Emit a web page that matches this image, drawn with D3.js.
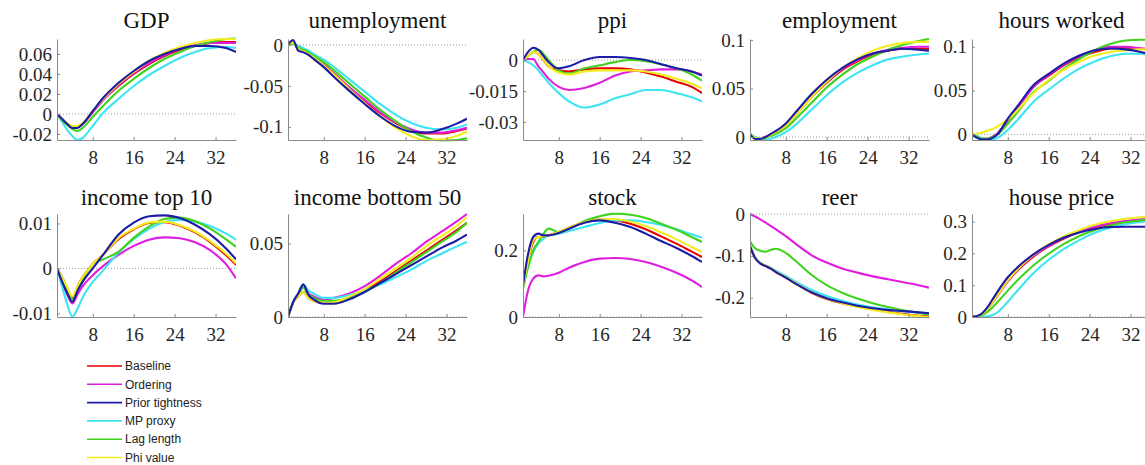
<!DOCTYPE html>
<html><head><meta charset="utf-8">
<script src="https://cdn.jsdelivr.net/npm/d3@7"></script>
<style>body{margin:0;background:#fff}</style>
</head><body><svg id="c" width="1145" height="465"></svg>
<script>
// ---------- data ----------
const horizons = [1,2,3,4,5,6,8,10,13,16,19,22,25,28,31,34,36];
const seriesNames = ["Baseline","Ordering","Prior tightness","MP proxy","Lag length","Phi value"];
const seriesColors = ["#e80000","#e01ee0","#1c1ca6","#3ee4f2","#40d21c","#f2ee1c"];
const xTicks = [8,16,24,32];

// each panel: rows in order Baseline, Ordering, Prior tightness, MP proxy, Lag length, Phi value
const gdp = [
  [0,-0.005,-0.010,-0.013,-0.013,-0.010,0.002,0.014,0.028,0.040,0.050,0.058,0.064,0.068,0.071,0.072,0.072],
  [0,-0.005,-0.010,-0.013,-0.013,-0.010,0.002,0.014,0.029,0.041,0.051,0.059,0.065,0.069,0.071,0.071,0.071],
  [0,-0.005,-0.010,-0.014,-0.014,-0.010,0.003,0.016,0.031,0.043,0.053,0.060,0.065,0.068,0.068,0.066,0.062],
  [0,-0.008,-0.016,-0.022,-0.026,-0.024,-0.012,0.001,0.015,0.028,0.039,0.048,0.056,0.062,0.066,0.067,0.066],
  [0,-0.006,-0.011,-0.015,-0.017,-0.014,-0.003,0.008,0.023,0.035,0.046,0.055,0.062,0.068,0.072,0.075,0.076],
  [0,-0.005,-0.009,-0.012,-0.012,-0.009,0.003,0.015,0.030,0.042,0.053,0.061,0.067,0.071,0.074,0.075,0.075]
];
const unemployment = [
  [0,0.003,-0.005,-0.008,-0.011,-0.015,-0.024,-0.035,-0.052,-0.068,-0.083,-0.095,-0.104,-0.108,-0.108,-0.105,-0.102],
  [0,0.003,-0.005,-0.008,-0.011,-0.015,-0.024,-0.035,-0.052,-0.067,-0.082,-0.094,-0.103,-0.107,-0.107,-0.104,-0.101],
  [0,0.006,-0.007,-0.009,-0.012,-0.017,-0.027,-0.039,-0.056,-0.072,-0.087,-0.099,-0.106,-0.107,-0.103,-0.096,-0.090],
  [0,0.001,-0.001,-0.004,-0.007,-0.011,-0.018,-0.027,-0.042,-0.057,-0.072,-0.085,-0.095,-0.101,-0.103,-0.101,-0.097],
  [0,0.002,-0.003,-0.006,-0.009,-0.013,-0.021,-0.031,-0.047,-0.063,-0.079,-0.093,-0.105,-0.113,-0.117,-0.116,-0.114],
  [0,0.003,-0.005,-0.008,-0.011,-0.015,-0.025,-0.036,-0.054,-0.071,-0.087,-0.101,-0.111,-0.116,-0.115,-0.111,-0.106]
];
const ppi = [
  [0,0.002,0.004,0.003,0.000,-0.003,-0.005,-0.0055,-0.0045,-0.004,-0.004,-0.0045,-0.006,-0.008,-0.0105,-0.013,-0.016],
  [0,0.0005,0.0005,-0.003,-0.006,-0.009,-0.013,-0.0145,-0.0135,-0.011,-0.0075,-0.0055,-0.005,-0.0045,-0.0045,-0.0055,-0.007],
  [0,0.004,0.006,0.005,0.002,-0.001,-0.004,-0.003,0.000,0.0015,0.0015,0.001,0.000,-0.002,-0.004,-0.0055,-0.0075],
  [0,-0.001,-0.0025,-0.005,-0.008,-0.011,-0.016,-0.020,-0.023,-0.0215,-0.0185,-0.0165,-0.0145,-0.0145,-0.016,-0.018,-0.020],
  [0,0.002,0.004,0.005,0.003,0.000,-0.005,-0.0065,-0.004,-0.0025,-0.001,0.000,-0.0005,-0.002,-0.004,-0.007,-0.010],
  [0,0.002,0.004,0.003,0.000,-0.003,-0.006,-0.007,-0.0055,-0.005,-0.005,-0.005,-0.0055,-0.007,-0.009,-0.0115,-0.0137]
];
const employment = [
  [0.003,-0.001,-0.002,0.000,0.002,0.005,0.012,0.023,0.041,0.056,0.069,0.078,0.085,0.089,0.091,0.091,0.091],
  [0.003,-0.001,-0.002,0.000,0.002,0.005,0.013,0.024,0.042,0.057,0.070,0.079,0.086,0.090,0.092,0.093,0.093],
  [0.003,-0.002,-0.002,0.000,0.003,0.006,0.014,0.026,0.044,0.059,0.071,0.080,0.086,0.089,0.091,0.090,0.089],
  [0.003,0.000,-0.002,-0.003,-0.002,0.000,0.005,0.013,0.028,0.043,0.056,0.066,0.074,0.080,0.083,0.085,0.086],
  [0.003,-0.001,-0.002,-0.001,0.001,0.003,0.009,0.019,0.035,0.051,0.064,0.075,0.083,0.090,0.095,0.099,0.101],
  [0.003,-0.001,-0.002,0.000,0.002,0.005,0.012,0.023,0.041,0.057,0.071,0.081,0.089,0.094,0.097,0.098,0.098]
];
const hoursWorked = [
  [0,-0.003,-0.005,-0.005,-0.003,0.001,0.016,0.031,0.054,0.067,0.079,0.088,0.094,0.098,0.099,0.098,0.097],
  [0,-0.003,-0.005,-0.005,-0.003,0.001,0.016,0.031,0.054,0.068,0.080,0.089,0.096,0.100,0.100,0.098,0.096],
  [0,-0.004,-0.006,-0.006,-0.004,0.000,0.018,0.033,0.056,0.069,0.081,0.090,0.096,0.098,0.097,0.094,0.091],
  [0,-0.002,-0.005,-0.006,-0.006,-0.004,0.005,0.017,0.037,0.051,0.064,0.075,0.083,0.089,0.092,0.092,0.090],
  [0,-0.003,-0.005,-0.005,-0.003,0.000,0.012,0.026,0.048,0.061,0.075,0.086,0.096,0.103,0.107,0.108,0.108],
  [0,0.001,0.002,0.004,0.006,0.009,0.017,0.028,0.047,0.062,0.074,0.083,0.090,0.094,0.096,0.097,0.097]
];
const incomeTop10 = [
  [0,-0.002,-0.0045,-0.0065,-0.004,-0.002,0.001,0.003,0.0065,0.0087,0.0101,0.0103,0.0095,0.0080,0.0058,0.0030,0.0008],
  [0,-0.003,-0.0058,-0.0078,-0.0058,-0.004,-0.0015,0.0005,0.003,0.0050,0.0064,0.0069,0.0067,0.0058,0.0040,0.0010,-0.0022],
  [0,-0.003,-0.0055,-0.0074,-0.005,-0.003,0.000,0.003,0.0075,0.0102,0.0116,0.0118,0.0112,0.0097,0.0075,0.0045,0.0020],
  [0,-0.004,-0.008,-0.0107,-0.009,-0.0065,-0.003,-0.0005,0.0035,0.0065,0.0088,0.0103,0.0108,0.0104,0.0094,0.0078,0.0064],
  [0,-0.002,-0.0045,-0.0068,-0.0045,-0.0025,0.001,0.002,0.0037,0.0068,0.0093,0.0110,0.0113,0.0105,0.0088,0.0065,0.0048],
  [0,-0.002,-0.0042,-0.0062,-0.004,-0.002,0.001,0.003,0.0067,0.0088,0.0102,0.0104,0.0096,0.0082,0.0060,0.0033,0.0011]
];
const incomeBottom50 = [
  [0,0.010,0.014,0.017,0.013,0.011,0.0095,0.010,0.013,0.018,0.024,0.031,0.038,0.045,0.052,0.059,0.064],
  [0,0.010,0.016,0.022,0.016,0.014,0.012,0.013,0.016,0.021,0.028,0.036,0.043,0.051,0.058,0.065,0.070],
  [0,0.010,0.016,0.022,0.015,0.012,0.009,0.009,0.012,0.017,0.023,0.029,0.035,0.041,0.047,0.052,0.056],
  [0,0.010,0.016,0.022,0.018,0.016,0.013,0.013,0.015,0.018,0.022,0.027,0.032,0.038,0.043,0.048,0.051],
  [0,0.010,0.015,0.020,0.015,0.013,0.011,0.011,0.013,0.017,0.023,0.030,0.037,0.044,0.051,0.058,0.064],
  [0,0.010,0.014,0.017,0.013,0.011,0.0095,0.010,0.014,0.019,0.026,0.033,0.040,0.048,0.055,0.062,0.068]
];
const stock = [
  [0.09,0.17,0.225,0.240,0.240,0.245,0.255,0.268,0.285,0.292,0.290,0.280,0.263,0.242,0.220,0.196,0.180],
  [0,0.08,0.115,0.125,0.122,0.124,0.133,0.148,0.165,0.175,0.177,0.174,0.165,0.151,0.133,0.110,0.090],
  [0.095,0.19,0.240,0.250,0.245,0.245,0.252,0.265,0.283,0.290,0.283,0.270,0.250,0.228,0.207,0.183,0.165],
  [0.09,0.15,0.195,0.220,0.235,0.245,0.250,0.258,0.270,0.282,0.290,0.290,0.285,0.276,0.263,0.248,0.238],
  [0.085,0.15,0.200,0.225,0.250,0.265,0.255,0.265,0.288,0.302,0.310,0.307,0.297,0.280,0.262,0.240,0.225],
  [0.09,0.17,0.230,0.240,0.242,0.245,0.255,0.268,0.285,0.293,0.294,0.286,0.273,0.254,0.233,0.210,0.195]
];
const reer = [
  [-0.077,-0.105,-0.118,-0.124,-0.130,-0.138,-0.152,-0.167,-0.188,-0.203,-0.213,-0.221,-0.228,-0.234,-0.239,-0.243,-0.245],
  [0,-0.006,-0.013,-0.020,-0.028,-0.036,-0.053,-0.072,-0.098,-0.116,-0.130,-0.140,-0.149,-0.156,-0.163,-0.170,-0.176],
  [-0.077,-0.105,-0.118,-0.124,-0.130,-0.138,-0.152,-0.167,-0.187,-0.201,-0.211,-0.219,-0.225,-0.229,-0.232,-0.235,-0.237],
  [-0.077,-0.103,-0.116,-0.123,-0.128,-0.135,-0.148,-0.162,-0.181,-0.196,-0.207,-0.216,-0.223,-0.228,-0.232,-0.235,-0.237],
  [-0.065,-0.082,-0.088,-0.090,-0.086,-0.083,-0.093,-0.113,-0.145,-0.170,-0.188,-0.202,-0.213,-0.222,-0.230,-0.236,-0.240],
  [-0.077,-0.104,-0.117,-0.123,-0.129,-0.137,-0.151,-0.166,-0.187,-0.202,-0.213,-0.222,-0.229,-0.235,-0.240,-0.244,-0.247]
];
const housePrice = [
  [0,0.002,0.010,0.025,0.045,0.068,0.112,0.148,0.190,0.222,0.247,0.267,0.282,0.293,0.300,0.304,0.306],
  [0,0.002,0.010,0.025,0.045,0.068,0.113,0.150,0.192,0.224,0.249,0.269,0.284,0.295,0.302,0.307,0.309],
  [0,0.003,0.012,0.030,0.055,0.080,0.125,0.158,0.197,0.227,0.250,0.266,0.277,0.283,0.284,0.284,0.283],
  [0,0.000,0.000,0.002,0.006,0.015,0.048,0.085,0.138,0.180,0.214,0.242,0.265,0.281,0.292,0.299,0.302],
  [0,0.001,0.006,0.016,0.030,0.047,0.083,0.117,0.162,0.199,0.230,0.255,0.274,0.288,0.298,0.304,0.307],
  [0,0.002,0.010,0.025,0.046,0.069,0.115,0.152,0.195,0.228,0.254,0.274,0.290,0.301,0.309,0.314,0.316]
];

// y tick labels per panel
const gdpTicks = ["-0.02","0","0.02","0.04","0.06"];
const unemploymentTicks = ["-0.1","-0.05","0"];
const ppiTicks = ["-0.03","-0.015","0"];
const employmentTicks = ["0","0.05","0.1"];
const hoursWorkedTicks = ["0","0.05","0.1"];
const incomeTop10Ticks = ["-0.01","0","0.01"];
const incomeBottom50Ticks = ["0","0.05"];
const stockTicks = ["0","0.2"];
const reerTicks = ["-0.2","-0.1","0"];
const housePriceTicks = ["0","0.1","0.2","0.3"];

const titles = ["GDP","unemployment","ppi","employment","hours worked",
                "income top 10","income bottom 50","stock","reer","house price"];
const yLimits = [[-0.026,0.075],[-0.116,0.0073],[-0.0387,0.0102],[-0.0031,0.101],[-0.0065,0.1088],
                 [-0.0108,0.0121],[0,0.070],[0,0.309],[-0.246,0],[0,0.324]];
const allData = [gdp,unemployment,ppi,employment,hoursWorked,incomeTop10,incomeBottom50,stock,reer,housePrice];
const allTicks = [gdpTicks,unemploymentTicks,ppiTicks,employmentTicks,hoursWorkedTicks,
                  incomeTop10Ticks,incomeBottom50Ticks,stockTicks,reerTicks,housePriceTicks];

// ---------- layout ----------
const colX = [57,288,523,750,972];
const rowTop = [39,214];
const rowH = [101,103];
const titleBase = [28,205];
const W = 179;
const drawOrder = [0,1,3,4,5,2];
const axisGray = "#8a8a8a";
const serif = "Liberation Serif";

const svg = d3.select("#c");

allData.forEach((data,i)=>{
  const row = Math.floor(i/5), col = i%5;
  const h = rowH[row];
  const g = svg.append("g").attr("transform",`translate(${colX[col]},${rowTop[row]})`);
  const x = d3.scaleLinear().domain([1,36]).range([0,W]);
  const y = d3.scaleLinear().domain(yLimits[i]).range([h,0]);

  g.append("clipPath").attr("id","clip"+i).append("rect")
    .attr("x",0).attr("y",-1.5).attr("width",W).attr("height",h+3);

  // dotted zero line
  g.append("line").attr("x1",0).attr("x2",W).attr("y1",y(0)).attr("y2",y(0))
    .attr("stroke","#9a9a9a").attr("stroke-width",1).attr("stroke-dasharray","1,2");

  const line = d3.line().x((d,j)=>x(horizons[j])).y(d=>y(d)).curve(d3.curveMonotoneX);
  drawOrder.forEach(k=>{
    g.append("path").attr("d",line(data[k])).attr("fill","none")
      .attr("stroke",seriesColors[k]).attr("stroke-width",2.1)
      .attr("stroke-linejoin","round").attr("clip-path",`url(#clip${i})`);
  });

  const labels = allTicks[i];
  const yAxis = d3.axisLeft(y).tickValues(labels.map(Number)).tickSize(-3).tickSizeOuter(0)
    .tickPadding(5).tickFormat((d,j)=>labels[j]);
  const ya = g.append("g").call(yAxis);
  const xAxis = d3.axisBottom(x).tickValues(xTicks).tickSize(-3).tickSizeOuter(0).tickPadding(11);
  const xa = g.append("g").attr("transform",`translate(0,${h})`).call(xAxis);
  [ya,xa].forEach(a=>{
    a.attr("font-family",serif).attr("font-size",19);
    a.select(".domain").attr("stroke",axisGray);
    a.selectAll(".tick line").attr("stroke",axisGray);
    a.selectAll(".tick text").attr("fill","#262626");
  });

  svg.append("text").attr("x",colX[col]+W/2).attr("y",titleBase[row])
    .attr("text-anchor","middle").attr("font-family",serif).attr("font-size",23)
    .attr("fill","#111").text(titles[i]);
});

// ---------- legend ----------
const legendTop = 366, legendStep = 18.3;
seriesNames.forEach((name,k)=>{
  const yy = legendTop + k*legendStep;
  svg.append("line").attr("x1",87).attr("x2",122).attr("y1",yy).attr("y2",yy)
    .attr("stroke",seriesColors[k]).attr("stroke-width",1.6);
  svg.append("text").attr("x",125).attr("y",yy).attr("dy","0.35em")
    .attr("font-family","Liberation Sans").attr("font-size",12)
    .attr("fill","#222").text(name);
});
</script></body></html>
